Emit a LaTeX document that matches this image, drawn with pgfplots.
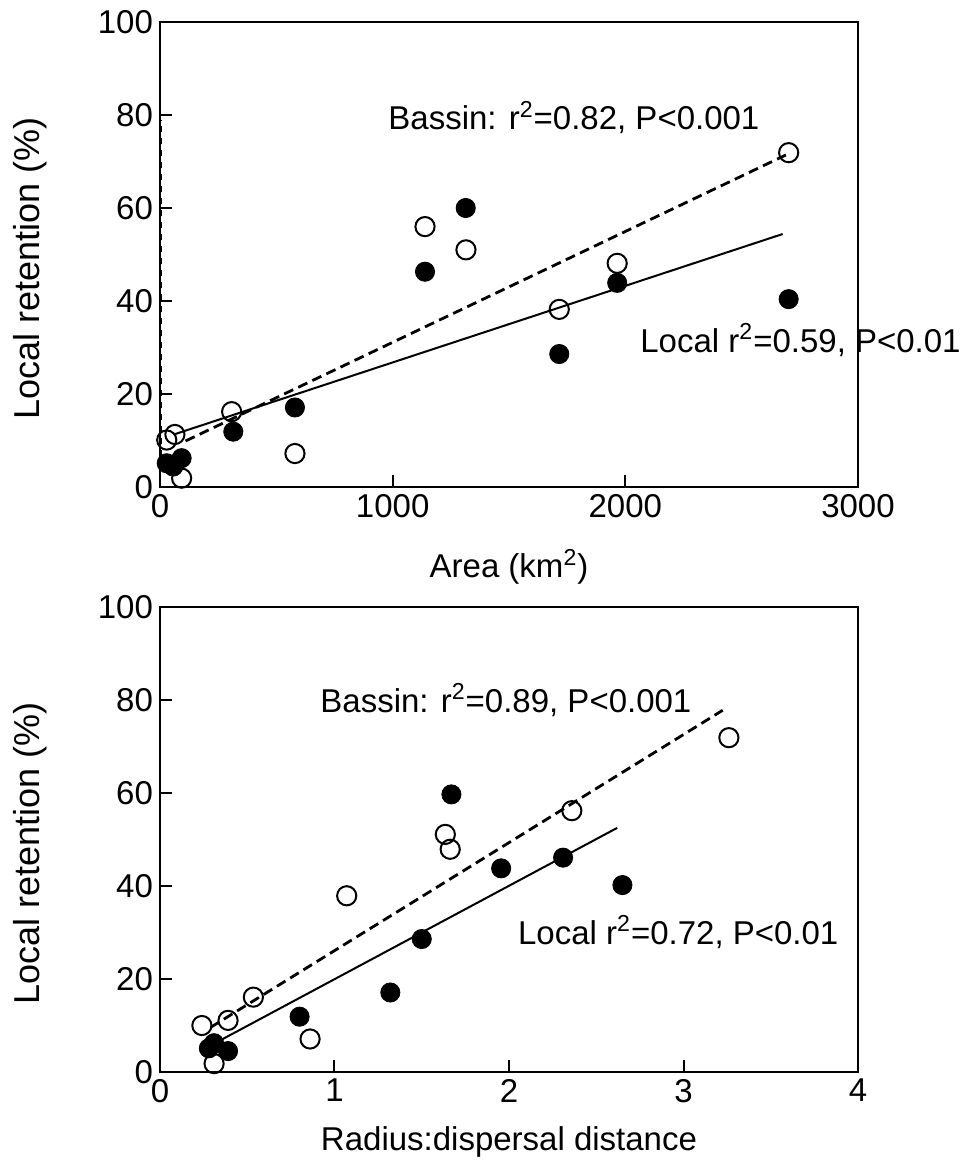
\documentclass[border=0pt]{standalone}
\usepackage{fontspec}
\setmainfont{Liberation Sans}
\usepackage{pgfplots}
\pgfplotsset{compat=1.18}
\newcommand{\fs}{\fontsize{16.5pt}{20pt}\selectfont}
\pgfplotsset{
  panel/.style={
    scale only axis, width=349pt, height=232.5pt,
    ymin=0, ymax=100, ytick={0,20,...,100},
    xtick pos=left, ytick pos=left, tick align=inside,
    major tick length=6pt,
    axis line style={line width=1.3pt},
    every tick/.style={black, line width=1pt},
    tick label style={font=\fs},
    label style={font=\fs},
    /pgf/number format/assume math mode=true,
    /pgf/number format/set thousands separator={},
    clip=false,
    ylabel={Local retention (\%)},
    ylabel style={at={(axis description cs:-0.186,0.47)}, anchor=center,
                  font=\fontsize{18pt}{21pt}\selectfont},
  },
  bassin/.style={only marks, mark=o, mark size=4.8pt, mark options={line width=1pt, fill=white}},
  local/.style={only marks, mark=*, mark size=4.8pt, mark options={black}},
  fitline/.style={black, line width=1pt},
  bassinline/.style={black, line width=1.4pt, dash pattern=on 5pt off 2.8pt},
}
\begin{document}
\begin{tikzpicture}
\path[use as bounding box] (-80pt,-337.5pt) rectangle (399.5pt,243.5pt);

%% top: area
\begin{axis}[panel, at={(0,0)}, anchor=south west,
    xmin=0, xmax=3000, xtick={0,1000,2000,3000},
    xlabel={Area (km\textsuperscript{2})},
    xlabel style={at={(axis description cs:0.5,-0.172)}, anchor=center}]
\addplot[black, line width=0.5pt, dashed] coordinates {(6,4)(6,79)};
\addplot[local] coordinates {
  (29,5.1)(57,4.4)(93,6.2)(315,11.9)(580,17.1)(1139,46.3)(1314,60)
  (1716,28.6)(1965,43.9)(2702,40.4)
};
\addplot[bassin] coordinates {
  (29,10.1)(64,11.3)(93,1.9)(308,16.2)(580,7.2)(1139,56)(1315,51)
  (1716,38.2)(1965,48.1)(2702,71.9)
};
\addplot[fitline] coordinates {(60,11.3)(2676,54.4)};
\addplot[bassinline] coordinates {(110,9.9)(2690,71.4)};
\node[anchor=base west, font=\fs, inner sep=0pt] at (axis cs:980,76.8) {Bassin: r\textsuperscript{2}=0.82, P<0.001};
\node[anchor=base west, font=\fs, inner sep=0pt] at (axis cs:2063,29.0) {Local r\textsuperscript{2}=0.59, P<0.01};
\end{axis}

%% bottom: radius / dispersal distance
\begin{axis}[panel, at={(0,-292.5pt)}, anchor=south west,
    xmin=0, xmax=4, xtick={0,1,2,3,4},
    xlabel={Radius:dispersal distance},
    xlabel style={at={(axis description cs:0.5,-0.1505)}, anchor=center}]
\addplot[local] coordinates {
  (0.28,5.1)(0.31,6.2)(0.39,4.5)(0.80,11.9)(1.32,17.1)(1.50,28.6)
  (1.67,59.7)(1.955,43.8)(2.31,46.1)(2.65,40.2)
};
\addplot[bassin] coordinates {
  (0.24,10.0)(0.39,11.1)(0.535,16.1)(0.31,1.8)(0.86,7.1)(1.07,37.9)
  (1.635,51.1)(1.663,47.9)(2.36,56.2)(3.26,71.9)
};
\addplot[fitline] coordinates {(0.36,7.1)(2.62,52.5)};
\addplot[bassinline] coordinates {(0.29,9.6)(3.225,77.8)};
\node[anchor=base west, font=\fs, inner sep=0pt] at (axis cs:0.917,77.4) {Bassin: r\textsuperscript{2}=0.89, P<0.001};
\node[anchor=base west, font=\fs, inner sep=0pt] at (axis cs:2.05,27.5) {Local r\textsuperscript{2}=0.72, P<0.01};
\end{axis}
\end{tikzpicture}
\end{document}
